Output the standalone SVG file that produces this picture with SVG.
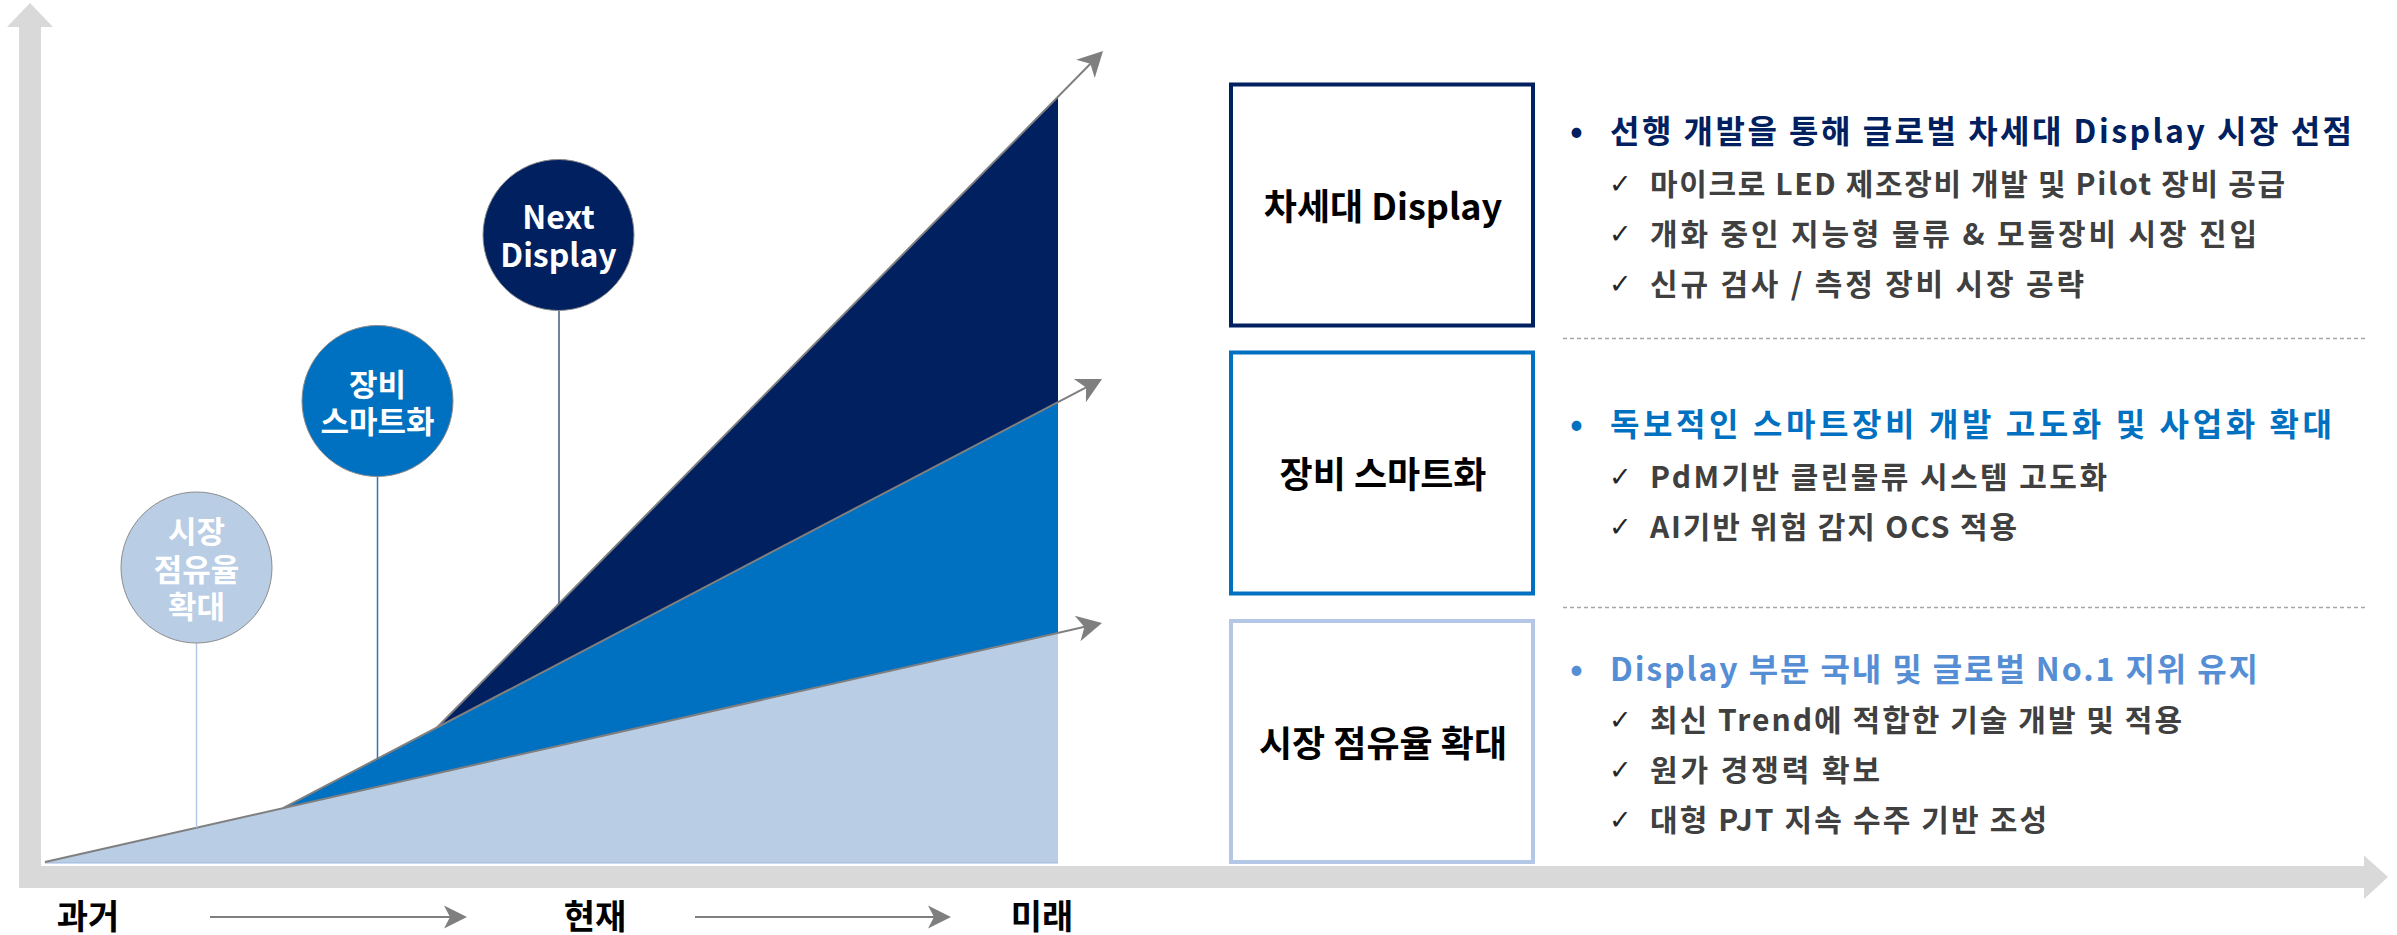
<svg xmlns="http://www.w3.org/2000/svg" width="2397" height="935" viewBox="0 0 2397 935">
<style>
text { font-family: "Noto Sans CJK KR", "Noto Sans", sans-serif; font-weight: bold; }
.ctext { fill: #ffffff; font-size: 31px; text-anchor: middle; }
.ltext { fill: #ffffff; font-size: 32px; text-anchor: middle; }
.btext { fill: #000000; font-size: 36px; text-anchor: middle; }
.h1 { fill: #002060; font-size: 32px; }
.h2 { fill: #0070c0; font-size: 32px; }
.h3 { fill: #558ed5; font-size: 32px; }
.item { fill: #404040; font-size: 30px; }
.chk { fill: #262626; font-size: 27px; font-family: "DejaVu Sans", sans-serif; font-weight: normal; }
.bul { font-size: 34px; }
.axis { fill: #d9d9d9; }
.trend { stroke: #7f7f7f; stroke-width: 2; fill: none; }
.dash { stroke: #a6a6a6; stroke-width: 1.3; stroke-dasharray: 4 3; }
.time { fill: #000000; font-size: 34px; text-anchor: middle; }
</style>
<defs>
<marker id="ah" markerUnits="userSpaceOnUse" markerWidth="40" markerHeight="40" viewBox="-20 -20 40 40" refX="0" refY="0" orient="auto">
<path d="M12,0 L-13,-13 L-6,0 L-13,13 Z" fill="#7f7f7f"/>
</marker>
<marker id="ah2" markerUnits="userSpaceOnUse" markerWidth="40" markerHeight="40" viewBox="-20 -20 40 40" refX="0" refY="0" orient="auto">
<path d="M10,0 L-13,-11.5 L-7,0 L-13,11.5 Z" fill="#7f7f7f"/>
</marker>
</defs>
<rect width="2397" height="935" fill="#ffffff"/>

<g id="axes">
<rect class="axis" x="19" y="26" width="22" height="862"/>
<polygon class="axis" points="7,27 30,3 53,27"/>
<rect class="axis" x="19" y="866" width="2345" height="22"/>
<polygon class="axis" points="2364,855.5 2388,877 2364,899"/>
</g>

<g id="areas">
<polygon points="45,862 1058,632.9 1058,863 45,863" fill="#b9cde5"/>
<line x1="45" y1="863" x2="1058" y2="863" stroke="#9fb7de" stroke-width="1"/>
<polygon points="283,808.2 1058,402.1 1058,632.9" fill="#0070c0"/>
<polygon points="437,727.5 1058,96.7 1058,402.1" fill="#002060"/>
</g>

<g id="connectors">
<line class="trend" x1="45" y1="862" x2="1090.3" y2="625.6" marker-end="url(#ah)"/>
<line class="trend" x1="283" y1="808.2" x2="1091.4" y2="384.6" marker-end="url(#ah)"/>
<line class="trend" x1="437" y1="727.5" x2="1094.6" y2="59.5" marker-end="url(#ah)"/>
<line x1="196.5" y1="643" x2="196.5" y2="827.7" stroke="#b4c7e7" stroke-width="1.5"/>
<line x1="377.5" y1="477" x2="377.5" y2="758.7" stroke="#2e75b6" stroke-width="1.5"/>
<line x1="559" y1="311" x2="559" y2="603.6" stroke="#44577f" stroke-width="1.5"/>
<line x1="210" y1="917" x2="457" y2="917" stroke="#7f7f7f" stroke-width="2" marker-end="url(#ah2)"/>
<line x1="695" y1="917" x2="941" y2="917" stroke="#7f7f7f" stroke-width="2" marker-end="url(#ah2)"/>
</g>

<g id="node-market">
<circle cx="196.5" cy="567.5" r="75.5" fill="#b9cde5" stroke="#8c8c8c" stroke-width="1"/>
<text class="ctext" x="196.5" y="543">시장<tspan x="196.5" dy="38">점유율</tspan><tspan x="196.5" dy="37">확대</tspan></text>
</g>
<g id="node-smart">
<circle cx="377.5" cy="401" r="75.5" fill="#0070c0" stroke="#8c8c8c" stroke-width="1"/>
<text class="ctext" x="377.5" y="396">장비<tspan x="377.5" dy="37">스마트화</tspan></text>
</g>
<g id="node-next">
<circle cx="558.5" cy="235" r="75.5" fill="#002060" stroke="#8c8c8c" stroke-width="1"/>
<text class="ltext" x="558.5" y="228.5">Next<tspan x="558.5" dy="38.5">Display</tspan></text>
</g>

<g id="timeline">
<text class="time" x="88" y="929">과거</text>
<text class="time" x="595" y="929">현재</text>
<text class="time" x="1042" y="929">미래</text>
</g>

<g id="box-next">
<rect x="1231" y="84.5" width="302" height="241" fill="#ffffff" stroke="#002060" stroke-width="4"/>
<text class="btext" x="1383" y="220">차세대 Display</text>
</g>
<g id="box-smart">
<rect x="1231" y="352.5" width="302" height="241" fill="#ffffff" stroke="#0070c0" stroke-width="4"/>
<text class="btext" x="1383" y="488">장비 스마트화</text>
</g>
<g id="box-market">
<rect x="1231" y="621" width="302" height="241" fill="#ffffff" stroke="#b4c7e7" stroke-width="4"/>
<text class="btext" x="1383" y="756.5">시장 점유율 확대</text>
</g>

<g id="dividers">
<line class="dash" x1="1563" y1="338.5" x2="2366" y2="338.5"/>
<line class="dash" x1="1563" y1="607.5" x2="2366" y2="607.5"/>
</g>

<g id="list-next">
<text class="bul" x="1570" y="143" fill="#002060">•</text>
<text class="h1" x="1610" y="143" textLength="742" lengthAdjust="spacing">선행 개발을 통해 글로벌 차세대 Display 시장 선점</text>
<text class="chk" x="1609" y="193">✓</text>
<text class="item" x="1650" y="195" textLength="635" lengthAdjust="spacing">마이크로 LED 제조장비 개발 및 Pilot 장비 공급</text>
<text class="chk" x="1609" y="243">✓</text>
<text class="item" x="1650" y="245" textLength="607" lengthAdjust="spacing">개화 중인 지능형 물류 &amp; 모듈장비 시장 진입</text>
<text class="chk" x="1609" y="293">✓</text>
<text class="item" x="1650" y="295" textLength="434" lengthAdjust="spacing">신규 검사 / 측정 장비 시장 공략</text>
</g>
<g id="list-smart">
<text class="bul" x="1570" y="436" fill="#0070c0">•</text>
<text class="h2" x="1610" y="436" textLength="722" lengthAdjust="spacing">독보적인 스마트장비 개발 고도화 및 사업화 확대</text>
<text class="chk" x="1609" y="486">✓</text>
<text class="item" x="1650" y="488" textLength="457" lengthAdjust="spacing">PdM기반 클린물류 시스템 고도화</text>
<text class="chk" x="1609" y="536">✓</text>
<text class="item" x="1650" y="538" textLength="367" lengthAdjust="spacing">AI기반 위험 감지 OCS 적용</text>
</g>
<g id="list-market">
<text class="bul" x="1570" y="681" fill="#558ed5">•</text>
<text class="h3" x="1610" y="681" textLength="648" lengthAdjust="spacing">Display 부문 국내 및 글로벌 No.1 지위 유지</text>
<text class="chk" x="1609" y="729">✓</text>
<text class="item" x="1650" y="731" textLength="532" lengthAdjust="spacing">최신 Trend에 적합한 기술 개발 및 적용</text>
<text class="chk" x="1609" y="779">✓</text>
<text class="item" x="1650" y="781" textLength="230" lengthAdjust="spacing">원가 경쟁력 확보</text>
<text class="chk" x="1609" y="829">✓</text>
<text class="item" x="1650" y="831" textLength="397" lengthAdjust="spacing">대형 PJT 지속 수주 기반 조성</text>
</g>
</svg>
